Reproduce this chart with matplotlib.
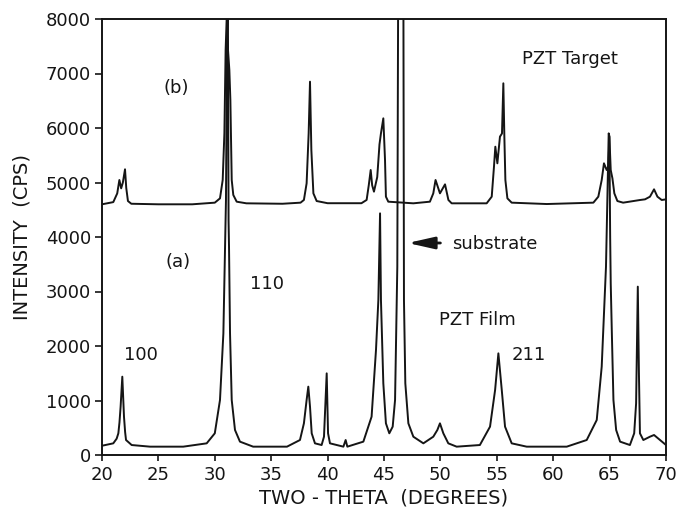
import numpy as np
import matplotlib
matplotlib.use('Agg')
import matplotlib.pyplot as plt

# trace (b): PZT target (two-theta in deg, intensity in cps)
tt_b = [20.0, 21.0, 21.35, 21.54, 21.7, 21.85, 22.04, 22.15, 22.3, 22.6, 25.0, 28.0,
        30.0, 30.46, 30.70, 30.85, 30.96, 31.05, 31.17, 31.29, 31.38, 31.50, 31.64,
        31.94, 32.8, 36.0, 37.6, 37.9, 38.14, 38.32, 38.44, 38.56, 38.74, 39.03, 40.0,
        43.0, 43.46, 43.65, 43.82, 43.95, 44.11, 44.4, 44.6, 44.73, 44.94, 45.09, 45.17,
        45.38, 47.6, 49.07, 49.37, 49.57, 49.96, 50.41, 50.71, 51.0, 54.1, 54.55, 54.75,
        54.87, 55.05, 55.28, 55.46, 55.58, 55.67, 55.76, 55.94, 56.32, 59.43, 63.56,
        64.0, 64.3, 64.5, 64.74, 64.9, 64.98, 65.1, 65.25, 65.42, 65.69, 66.2, 67.7,
        68.14, 68.58, 68.94, 69.24, 69.62, 70.0]
cps_b = [4600, 4640, 4800, 5046, 4893, 5000, 5242, 4900, 4660, 4610, 4600, 4600,
         4630, 4709, 5046, 5902, 7431, 7990, 7431, 7064, 6514, 5046, 4771,
         4648, 4618, 4610, 4630, 4680, 4985, 5902, 6850, 5596, 4801, 4660, 4620,
         4620, 4680, 4950, 5229, 4950, 4832, 5100, 5700, 5902, 6177, 5413, 4740,
         4648, 4618, 4648, 4801, 5046, 4801, 4966, 4679, 4618, 4618, 4740, 5291,
         5657, 5352, 5841, 5900, 6820, 5841, 5046, 4709, 4630, 4605, 4630,
         4740, 5046, 5352, 5229, 5300, 5841, 5229, 5076, 4801, 4660, 4630, 4679,
         4691, 4740, 4875, 4740, 4679, 4691]

# trace (a): PZT film (peaks at 31.1 and 46.5 run off the top of the scale)
tt_a = [20.0, 21.0, 21.3, 21.45, 21.55, 21.65, 21.80, 21.95, 22.05, 22.13, 22.63, 24.26,
        27.2, 29.28, 30.0, 30.46, 30.76, 30.99, 31.14, 31.22, 31.26, 31.35, 31.5,
        31.79, 32.23, 33.4, 36.4, 37.55, 37.9, 38.14, 38.29, 38.44, 38.59, 38.88,
        39.47, 39.68, 39.92, 40.04, 40.21, 41.4, 41.6, 41.75, 43.17, 43.9, 44.29,
        44.5, 44.65, 44.73, 44.94, 45.17, 45.47, 45.77, 45.98, 46.18, 46.27, 46.71,
        46.77, 46.89, 47.16, 47.6, 48.49, 49.37, 49.73, 49.96, 50.26, 50.7, 51.44,
        53.5, 54.4, 54.85, 55.14, 55.44, 55.73, 56.32, 57.65, 61.2, 62.97, 63.86,
        64.3, 64.68, 64.92, 64.98, 65.05, 65.1, 65.2, 65.34, 65.58, 65.93, 66.8,
        67.18, 67.35, 67.5, 67.6, 67.69, 67.99, 68.58, 68.94, 69.47, 70.0]
cps_a = [170, 214, 300, 398, 600, 887, 1437, 703, 420, 275, 183, 153,
         153, 214, 398, 1009, 2232, 4679, 9500, 4300, 3823, 2232, 1009,
         459, 245, 153, 153, 275, 581, 1009, 1254, 887, 398, 214,
         183, 336, 1498, 398, 214, 153, 275, 153, 245, 703, 1927,
         2844, 4434, 2844, 1315, 581, 398, 520, 1009, 3456, 9500, 9500,
         2844, 1315, 581, 336, 214, 336, 459, 581, 398, 214, 153,
         183, 520, 1193, 1865, 1193, 520, 214, 153, 153, 275, 642,
         1621, 3456, 5902, 5850, 4000, 3150, 2232, 1009, 459, 245, 183,
         398, 948, 3089, 1500, 398, 275, 336, 367, 275, 183]

xticks = list(range(20, 71, 5))
yticks = list(range(0, 8001, 1000))

ink = '#151515'
fig = plt.figure(figsize=(6.78, 5.13), dpi=100)
ax = fig.add_axes([102/678, 1 - 455/513, 564/678, 436/513])

ax.plot(tt_b, cps_b, color=ink, lw=1.4)
ax.plot(tt_a, cps_a, color=ink, lw=1.4)

ax.set_xlim(20, 70)
ax.set_ylim(0, 8000)
ax.set_xticks(xticks)
ax.set_yticks(yticks)
ax.tick_params(axis='both', labelsize=13, color=ink, labelcolor=ink, width=1.2)
ax.tick_params(axis='x', direction='out', length=4, pad=4)
ax.tick_params(axis='y', direction='out', length=5, pad=3)
for s in ax.spines.values():
    s.set_linewidth(1.4)
    s.set_color(ink)

fig.text(22/678, 1 - 237/513, 'INTENSITY  (CPS)', rotation=90, ha='center',
         va='center', fontsize=14, color=ink)
fig.text(384/678, 1 - 498/513, 'TWO - THETA  (DEGREES)', ha='center',
         va='center', fontsize=14, color=ink)

ax.text(26.6, 6730, '(b)', ha='center', va='center', fontsize=13, color=ink)
ax.text(26.75, 3540, '(a)', ha='center', va='center', fontsize=13, color=ink)
ax.text(34.6, 3140, '110', ha='center', va='center', fontsize=13, color=ink)
ax.text(23.45, 1835, '100', ha='center', va='center', fontsize=13, color=ink)
ax.text(61.5, 7270, 'PZT Target', ha='center', va='center', fontsize=13, color=ink)
ax.text(53.25, 2480, 'PZT Film', ha='center', va='center', fontsize=13, color=ink)
ax.text(57.85, 1835, '211', ha='center', va='center', fontsize=13, color=ink)
ax.text(51.0, 3870, 'substrate', ha='left', va='center', fontsize=13, color=ink)
ax.annotate('', xy=(47.1, 3890), xytext=(50.0, 3890),
            arrowprops=dict(arrowstyle='-|>,head_length=0.8,head_width=0.18',
                            mutation_scale=20, lw=2, color=ink,
                            shrinkA=0, shrinkB=0))

plt.savefig('out.png', dpi=100)
